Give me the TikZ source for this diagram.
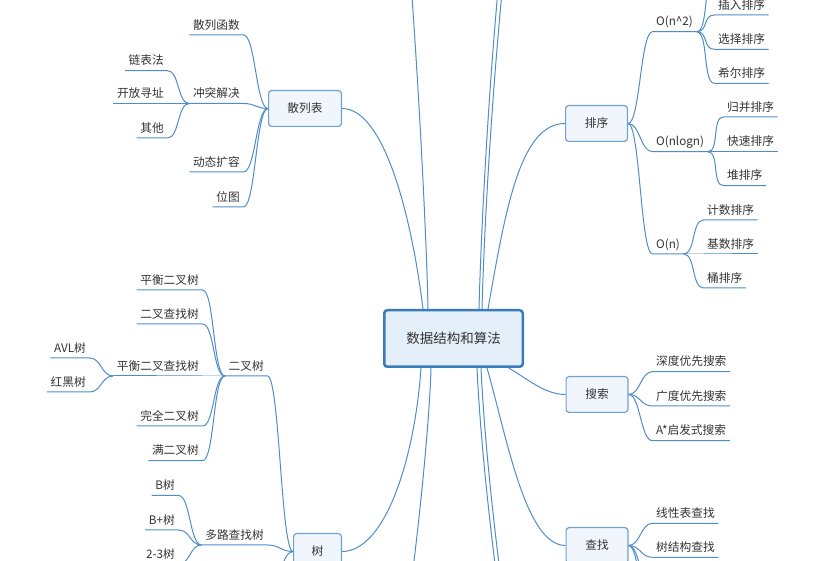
\documentclass[tikz,border=0pt]{standalone}
\usepackage{fontspec}
\setmainfont{Noto Sans CJK SC}
\usetikzlibrary{backgrounds}
\definecolor{MapBranch}{HTML}{4E8DC8}
\definecolor{MapEdge}{HTML}{6FA1D3}
\definecolor{MapFill}{HTML}{F0F6FC}
\definecolor{MapRootEdge}{HTML}{3A7BBD}
\definecolor{MapRootFill}{HTML}{E4EFFA}
\definecolor{MapInk}{HTML}{333333}
\tikzset{
  rootbox/.style={draw=MapRootEdge, line width=2.5pt, rounded corners=3pt, fill=MapRootFill,
    text=MapInk, font=\fontsize{13.5}{16}\selectfont, minimum width=138.5pt, minimum height=56.5pt,
    text height=12pt, text depth=2pt},
  topicbox/.style={draw=MapEdge, line width=1.2pt, rounded corners=3pt, fill=MapFill,
    text=MapInk, font=\fontsize{11.7}{14}\selectfont, minimum height=35.8pt,
    text height=10pt, text depth=1.5pt},
  topic/.style={text=MapInk, font=\fontsize{11.7}{14}\selectfont, inner xsep=3.5pt, inner ysep=2.6pt,
    text height=9pt, text depth=3pt},
  leftleaf/.style={topic, anchor=south east},
  rightleaf/.style={topic, anchor=south west},
  twig/.style={draw=MapBranch, line width=1pt},
  lbranch/.style={out=180, in=0, distance=12pt},
  rbranch/.style={out=0, in=180, distance=12pt}
}
\begin{document}
\begin{tikzpicture}[x=1pt, y=1pt]
  \path[use as bounding box] (0,0) rectangle (840,561);
  \clip (0,0) rectangle (840,561);
  % main topics
  \node[rootbox] (root) at (453.5,222.5) {数据结构和算法};
  \node[topicbox, minimum width=72.8pt] (hash) at (305,452.5) {散列表};
  \node[topicbox, minimum width=61.8pt] (sort) at (596.5,437.5) {排序};
  \node[topicbox, minimum width=61.8pt] (search) at (597,166.5) {搜索};
  \node[topicbox, minimum width=61.8pt] (find) at (597,15.5) {查找};
  \node[topicbox, minimum width=47.8pt] (tree) at (317.5,9.5) {树};
  % hash table
  \node[leftleaf] (hashfn) at (243.5,526) {散列函数};
  \node[leftleaf] (clash) at (243.5,457.5) {冲突解决};
  \node[leftleaf] (resize) at (243.5,389) {动态扩容};
  \node[leftleaf] (bitmap) at (243.5,354) {位图};
  \node[leftleaf] (chaining) at (167.5,490.3) {链表法};
  \node[leftleaf] (probing) at (167.5,457.5) {开放寻址};
  \node[leftleaf] (otherway) at (167.5,423) {其他};
  % sorting
  \node[rightleaf] (quad) at (652.5,529.3) {O(n\textasciicircum2)};
  \node[rightleaf] (nlogn) at (652.5,409.3) {O(nlogn)};
  \node[rightleaf] (linear) at (652.5,307) {O(n)};
  \coordinate (bubble) at (714.5,580.3);
  \node[rightleaf] (insertion) at (714.5,546) {插入排序};
  \node[rightleaf] (selection) at (714.5,511.7) {选择排序};
  \node[rightleaf] (shellsort) at (714.5,477.7) {希尔排序};
  \node[rightleaf] (mergesort) at (723.5,444) {归并排序};
  \node[rightleaf] (quicksort) at (723.5,409.3) {快速排序};
  \node[rightleaf] (heapsort) at (723.5,375.3) {堆排序};
  \node[rightleaf] (counting) at (703.5,341) {计数排序};
  \node[rightleaf] (radix) at (703.5,307) {基数排序};
  \node[rightleaf] (bucket) at (703.5,273) {桶排序};
  % searching
  \node[rightleaf] (depthfirst) at (652.5,189.3) {深度优先搜索};
  \node[rightleaf] (breadthfirst) at (652.5,155) {广度优先搜索};
  \node[rightleaf] (astar) at (652.5,120.3) {A*启发式搜索};
  % lookup
  \node[rightleaf] (listfind) at (652.5,37.7) {线性表查找};
  \node[rightleaf] (treefind) at (652.5,3.7) {树结构查找};
  \coordinate (findmore) at (652.5,-30.3);
  \coordinate (findlast) at (652.5,-64.3);
  % trees
  \node[leftleaf] (binary) at (267.5,185) {二叉树};
  \node[leftleaf] (multiway) at (267.5,16) {多路查找树};
  \coordinate (treemore) at (267.5,-30);
  \node[leftleaf] (baltree) at (202.5,271) {平衡二叉树};
  \node[leftleaf] (bstree) at (202.5,237) {二叉查找树};
  \node[leftleaf] (balbst) at (202.5,185) {平衡二叉查找树};
  \node[leftleaf] (complete) at (202.5,135) {完全二叉树};
  \node[leftleaf] (fulltree) at (202.5,100.3) {满二叉树};
  \node[leftleaf] (avl) at (89.5,203) {AVL树};
  \node[leftleaf] (redblack) at (89.5,169) {红黑树};
  \node[leftleaf] (btree) at (178.5,65.5) {B树};
  \node[leftleaf] (bplus) at (178.5,31) {B+树};
  \node[leftleaf] (twothree) at (178.5,-3) {2-3树};
  % branches leaving the frame
  \coordinate (upleft) at (370,861);
  \coordinate (upright) at (560,861);
  \coordinate (upfar) at (565,851);
  \coordinate (downleft) at (330,-339);
  \coordinate (downright) at (580,-339);
  \coordinate (downfar) at (584,-339);

  \begin{scope}[on background layer]
    \clip (0,0) rectangle (840,561);
    \draw[twig] ([xshift=-30.5pt]root.north) to[out=97, in=0, out distance=90pt, in distance=43pt] (hash.east);
    \draw[twig] ([xshift=-25.5pt]root.north) to[out=91, in=0, out distance=109pt, in distance=30pt] (upleft);
    \draw[twig] ([xshift=25.5pt]root.north) to[out=88.5, in=180, out distance=159pt, in distance=50pt] (upright);
    \draw[twig] ([xshift=28.5pt]root.north) to[out=88.5, in=180, out distance=159pt, in distance=50pt] (upfar);
    \draw[twig] ([xshift=34.5pt]root.north) to[out=80, in=180, out distance=101pt, in distance=45pt] (sort.west);
    \draw[twig] ([xshift=55pt]root.south) to[out=-28, in=180, out distance=19pt, in distance=22pt] (search.west);
    \draw[twig] ([xshift=33.5pt]root.south) to[out=-74, in=180, out distance=73pt, in distance=40pt] (find.west);
    \draw[twig] ([xshift=23.5pt]root.south) to[out=-87.4, in=160, out distance=152pt, in distance=53pt] (downright);
    \draw[twig] ([xshift=27.5pt]root.south) to[out=-87.4, in=160, out distance=152pt, in distance=53pt] (downfar);
    \draw[twig] ([xshift=-22.5pt]root.south) to[out=-91.5, in=0, out distance=112pt, in distance=50pt] (downleft);
    \draw[twig] ([xshift=-32.5pt]root.south) to[out=-94, in=0, out distance=92pt, in distance=43pt] (tree.east);
  \end{scope}

  % hash table branches
  \draw[twig] (hash.west) to[lbranch] (hashfn.south east) -- (hashfn.south west);
  \draw[twig] (hash.west) to[lbranch] (clash.south east) -- (clash.south west);
  \draw[twig] (hash.west) to[lbranch] (resize.south east) -- (resize.south west);
  \draw[twig] (hash.west) to[lbranch] (bitmap.south east) -- (bitmap.south west);
  \draw[twig] (clash.south west) to[lbranch] (chaining.south east) -- (chaining.south west);
  \draw[twig] (clash.south west) to[lbranch] (probing.south east) -- (probing.south west);
  \draw[twig] (clash.south west) to[lbranch] (otherway.south east) -- (otherway.south west);
  % sorting branches
  \draw[twig] (sort.east) to[rbranch] (quad.south west) -- (quad.south east);
  \draw[twig] (sort.east) to[rbranch] (nlogn.south west) -- (nlogn.south east);
  \draw[twig] (sort.east) to[rbranch] (linear.south west) -- (linear.south east);
  \draw[twig] (quad.south east) to[rbranch] (bubble);
  \draw[twig] (quad.south east) to[rbranch] (insertion.south west) -- (insertion.south east);
  \draw[twig] (quad.south east) to[rbranch] (selection.south west) -- (selection.south east);
  \draw[twig] (quad.south east) to[rbranch] (shellsort.south west) -- (shellsort.south east);
  \draw[twig] (nlogn.south east) to[rbranch] (mergesort.south west) -- (mergesort.south east);
  \draw[twig] (nlogn.south east) to[rbranch] (quicksort.south west) -- (quicksort.south east);
  \draw[twig] (nlogn.south east) to[rbranch] (heapsort.south west) -- (heapsort.south east);
  \draw[twig] (linear.south east) to[rbranch] (counting.south west) -- (counting.south east);
  \draw[twig] (linear.south east) to[rbranch] (radix.south west) -- (radix.south east);
  \draw[twig] (linear.south east) to[rbranch] (bucket.south west) -- (bucket.south east);
  % searching and lookup branches
  \draw[twig] (search.east) to[rbranch] (depthfirst.south west) -- (depthfirst.south east);
  \draw[twig] (search.east) to[rbranch] (breadthfirst.south west) -- (breadthfirst.south east);
  \draw[twig] (search.east) to[rbranch] (astar.south west) -- (astar.south east);
  \draw[twig] (find.east) to[rbranch] (listfind.south west) -- (listfind.south east);
  \draw[twig] (find.east) to[rbranch] (treefind.south west) -- (treefind.south east);
  \draw[twig] (find.east) to[rbranch] (findmore);
  \draw[twig] (find.east) to[rbranch] (findlast);
  % tree branches
  \draw[twig] (tree.west) to[lbranch] (binary.south east) -- (binary.south west);
  \draw[twig] (tree.west) to[lbranch] (multiway.south east) -- (multiway.south west);
  \draw[twig] (tree.west) to[lbranch] (treemore);
  \draw[twig] (binary.south west) to[lbranch] (baltree.south east) -- (baltree.south west);
  \draw[twig] (binary.south west) to[lbranch] (bstree.south east) -- (bstree.south west);
  \draw[twig] (binary.south west) to[lbranch] (balbst.south east) -- (balbst.south west);
  \draw[twig] (binary.south west) to[lbranch] (complete.south east) -- (complete.south west);
  \draw[twig] (binary.south west) to[lbranch] (fulltree.south east) -- (fulltree.south west);
  \draw[twig] (balbst.south west) to[lbranch] (avl.south east) -- (avl.south west);
  \draw[twig] (balbst.south west) to[lbranch] (redblack.south east) -- (redblack.south west);
  \draw[twig] (multiway.south west) to[lbranch] (btree.south east) -- (btree.south west);
  \draw[twig] (multiway.south west) to[lbranch] (bplus.south east) -- (bplus.south west);
  \draw[twig] (multiway.south west) to[lbranch] (twothree.south east) -- (twothree.south west);
\end{tikzpicture}
\end{document}
